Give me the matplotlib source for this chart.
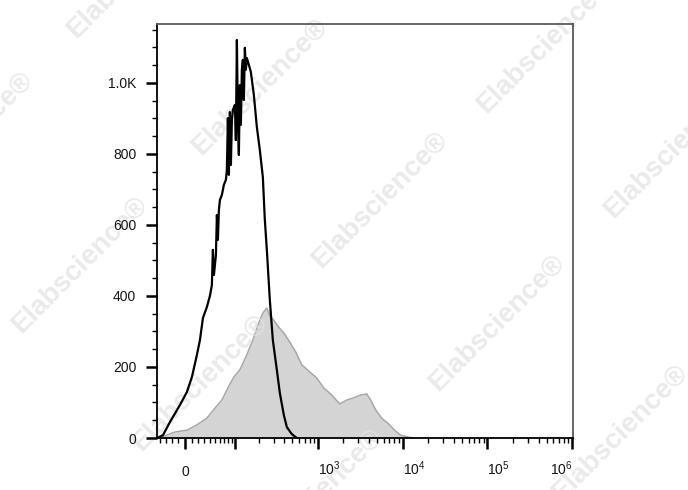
import numpy as np
import matplotlib
matplotlib.use("Agg")
import matplotlib.pyplot as plt

plt.rcParams['font.family'] = ['Liberation Sans', 'DejaVu Sans']
plt.rcParams['mathtext.fontset'] = 'custom'
plt.rcParams['mathtext.rm'] = 'Liberation Sans'
plt.rcParams['mathtext.it'] = 'Liberation Sans:italic'

# black (unfilled) histogram: fluorescence intensity vs count
black_x = [-45.5, -34.4, -22.8, -7.4, 3.0, 10.4, 18.0, 22.8, 27.7, 34.4, 39.8, 43.5,
           45.4, 47.4, 51.4, 53.4, 55.5, 57.6, 59.8, 64.3, 68.9, 73.8, 76.3, 78.9,
           81.5, 84.2, 87.0, 89.8, 92.6, 98.6, 101.7, 104.9, 108.1, 111.4, 114.8,
           118.3, 121.9, 125.6, 129.3, 133.2, 137.1, 141.2, 149.6, 158.4, 172.6,
           187.9, 204.4, 222.3, 235.1, 248.5, 270.0, 293.4, 327.5, 355.6, 396.8,
           430.7, 493.5, 565.6]
black_y = [0, 8, 45, 93, 130, 172, 234, 276, 338, 369, 400, 431,
           530, 459, 515, 628, 558, 642, 670, 685, 713, 727, 755, 901,
           741, 918, 769, 896, 924, 938, 839, 1121, 896, 797, 994,
           882, 1037, 1065, 952, 1099, 1037, 1070, 1051, 1031, 966,
           876, 811, 735, 614, 530, 389, 276, 192, 127, 65,
           31, 11, 0]

# gray (filled) histogram
gray_x = [-45.5, -31.0, -14.9, 3.0, 18.0, 34.4, 49.4, 64.3, 78.9, 95.6, 114.8, 137.1,
          167.8, 193.3, 222.3, 248.5, 270.0, 301.5, 336.6, 396.8, 467.5, 550.5,
          648.0, 805.5, 974, 1178, 1463, 1818, 2197, 2656, 3212, 3780, 4213, 4823,
          5675, 6678, 8074, 9500, 11480, 13510]
gray_y = [0, 6, 17, 22, 37, 56, 84, 107, 141, 172, 192, 228,
          276, 318, 352, 366, 344, 332, 315, 296, 270, 242,
          206, 186, 169, 141, 121, 96, 107, 113, 121, 124, 107, 79,
          56, 42, 22, 8, 3, 0]

x_major = [0, 100, 1e3, 1e4, 1e5, 1e6]
x_major_labels = ['0', '', r'$\mathregular{10^3}$', r'$\mathregular{10^4}$',
                  r'$\mathregular{10^5}$', r'$\mathregular{10^6}$']
x_minor = ([-40, -30, -20, -10] + list(range(10, 100, 10)) + list(range(200, 1000, 100))
           + list(range(2000, 10000, 1000)) + list(range(20000, 100000, 10000))
           + list(range(200000, 1000000, 100000)))
y_major = [0, 200, 400, 600, 800, 1000]
y_major_labels = ['0', '200', '400', '600', '800', '1.0K']
y_minor = list(range(50, 1200, 50))

W = 54.5


def fwd(v):
    return np.arcsinh(np.asarray(v, dtype=float) / W)


def inv(v):
    return W * np.sinh(np.asarray(v, dtype=float))


fig = plt.figure(figsize=(6.88, 4.90), dpi=100)

ax = fig.add_axes([157 / 688, 1 - 438 / 490, (573 - 157) / 688, (438 - 24) / 490])
ax.set_xscale('function', functions=(fwd, inv))

ax.fill_between(gray_x, gray_y, color='#d4d4d4', lw=0, zorder=2)
ax.plot(gray_x, gray_y, color='#a8a8a8', lw=1.1, zorder=3)
ax.plot(black_x, black_y, color='black', lw=1.6, zorder=4)

# watermarks (between the gray fill and the black line)
marks = [(135, -30), (260, 87), (380, 200), (497, 323), (620, 433), (-35, 140),
         (80, 265), (200, 383), (315, 497), (545, 45), (672, 150)]
for mx, my in marks:
    ax.text(mx / 688, 1 - my / 490, 'Elabscience®', rotation=45, ha='center',
            va='center', fontsize=20, fontweight='bold', color='#e3e3e3', alpha=0.75,
            transform=fig.transFigure, clip_on=False, zorder=3.5)

ax.set_xlim(-45.4, 1.02e6)
ax.set_ylim(0, 1166)

ax.set_xticks(x_major)
ax.set_xticklabels(x_major_labels)
ax.set_xticks(x_minor, minor=True)
ax.set_yticks(y_major)
ax.set_yticklabels(y_major_labels)
ax.set_yticks(y_minor, minor=True)

ax.tick_params(which='major', length=8, width=1.8, color='black', labelsize=10,
               labelcolor='#151515')
ax.tick_params(which='minor', length=3.5, width=1.0, color='black')
ax.tick_params(axis='x', which='major', pad=19)
ax.tick_params(axis='y', which='major', pad=7)

labs = ax.get_xticklabels()
for i, lab in enumerate(labs):
    lab.set_va('baseline')
    if i in (2, 3, 4):
        lab.set_ha('left')
    elif i == 5:
        lab.set_ha('right')

ax.xaxis.set_zorder(5)
ax.yaxis.set_zorder(5)

for s in ('left', 'bottom'):
    ax.spines[s].set_color('black')
    ax.spines[s].set_linewidth(1.3)
for s in ('top', 'right'):
    ax.spines[s].set_color('#5a5a5a')
    ax.spines[s].set_linewidth(1.3)
for s in ax.spines.values():
    s.set_zorder(5)

fig.savefig('out.png', dpi=100)
